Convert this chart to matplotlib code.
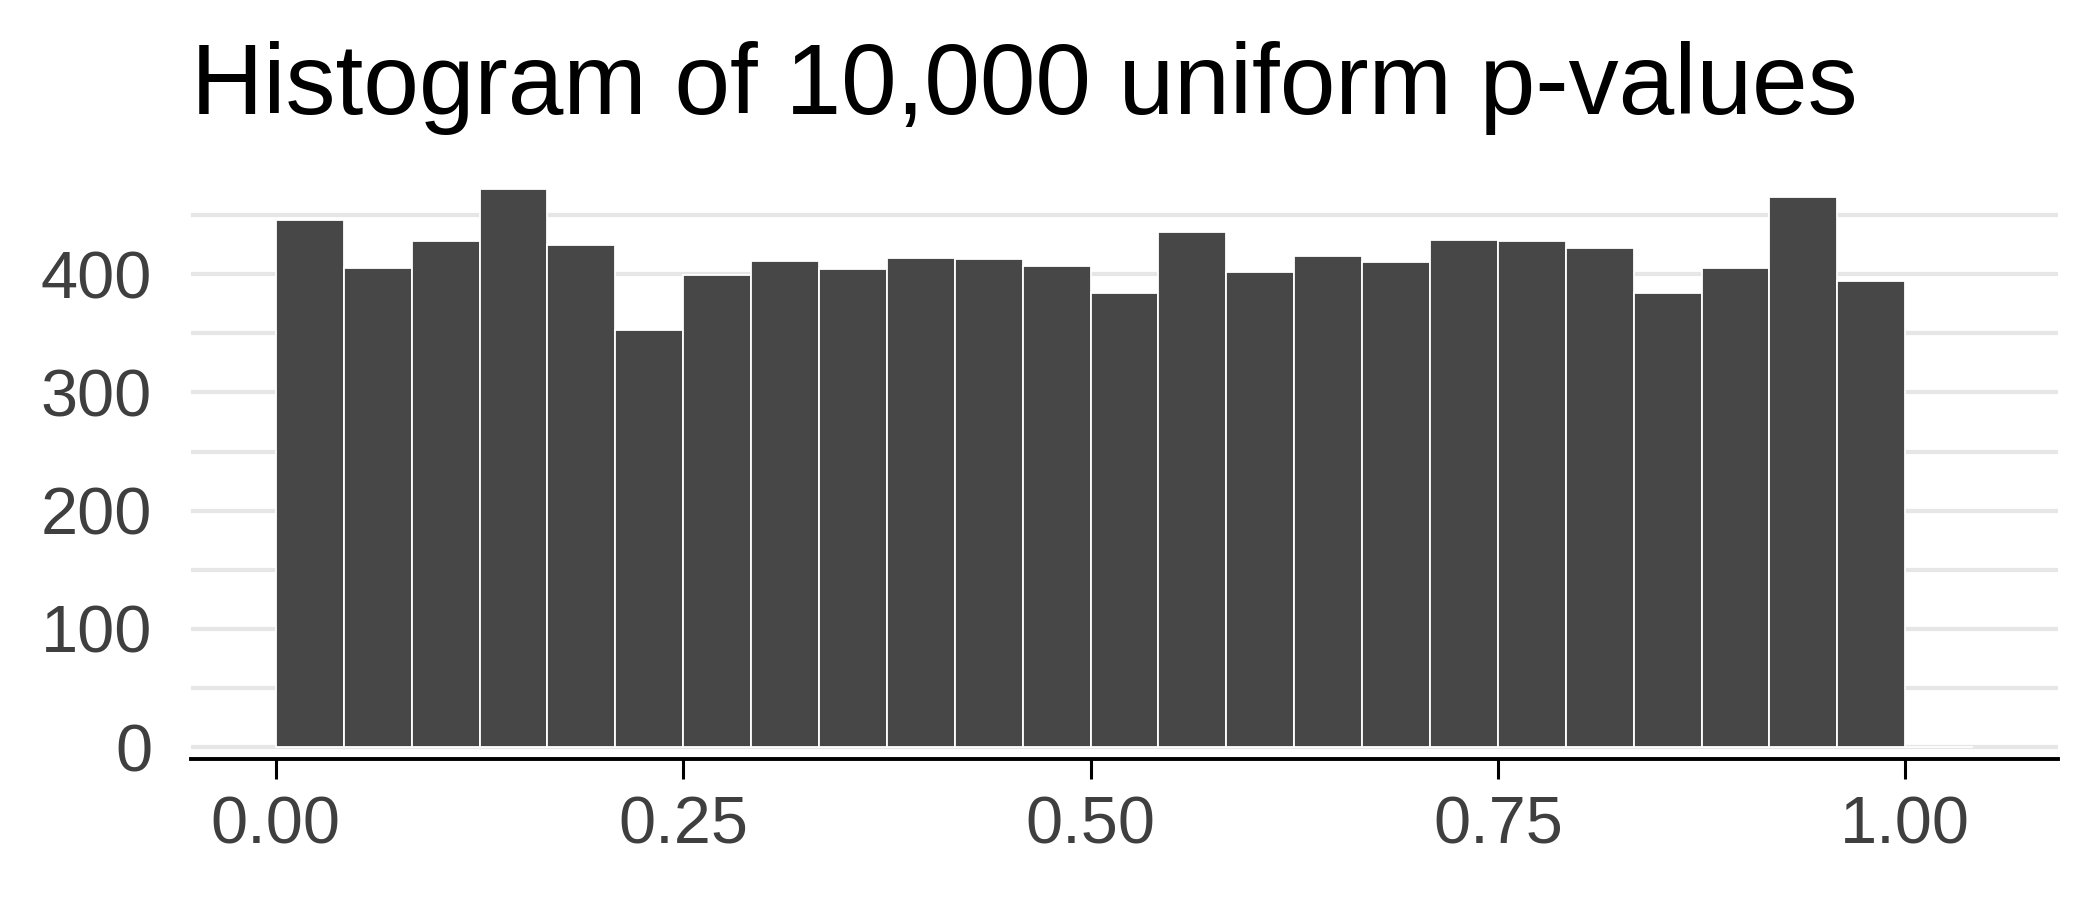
import numpy as np
import matplotlib
matplotlib.use("Agg")
import matplotlib.pyplot as plt
from matplotlib.ticker import MultipleLocator, FixedLocator

# Data: histogram of 10,000 uniform p-values, binwidth 1/24, boundary 0
bin_width = 1 / 24
counts = [446, 405, 428, 472, 425, 353, 399, 411, 404, 414, 413, 407,
          384, 436, 402, 415, 410, 429, 428, 422, 384, 405, 465, 394, 0]
bin_left = [i * bin_width for i in range(len(counts))]
x_ticks = [0.0, 0.25, 0.5, 0.75, 1.0]
x_tick_labels = ["0.00", "0.25", "0.50", "0.75", "1.00"]
y_ticks = [0, 100, 200, 300, 400]
title = "Histogram of 10,000 uniform p-values"

plt.rcParams['font.family'] = ['Liberation Sans', 'DejaVu Sans']

fig = plt.figure(figsize=(21, 9), dpi=100)
ax = fig.add_axes([191 / 2100, 1 - 759 / 900, (2058 - 191) / 2100, (759 - 180) / 900])

ax.bar(bin_left, counts, width=bin_width, align='edge', color='#474747',
       edgecolor='white', linewidth=1.3, zorder=2)

xmax_data = bin_left[-1] + bin_width
pad = 0.05 * xmax_data
ax.set_xlim(-pad, xmax_data + pad)
ax.set_ylim(-0.021 * max(counts), 1.016 * max(counts))

ax.xaxis.set_major_locator(FixedLocator(x_ticks))
ax.set_xticklabels(x_tick_labels)
ax.yaxis.set_major_locator(FixedLocator(y_ticks))
ax.yaxis.set_minor_locator(MultipleLocator(50))

ax.grid(axis='y', which='both', color='#e6e6e6', linewidth=3.0, zorder=0)
ax.set_axisbelow(True)
ax.grid(axis='x', visible=False)

for s in ['top', 'right', 'left']:
    ax.spines[s].set_visible(False)
ax.spines['bottom'].set_linewidth(2.8)
ax.spines['bottom'].set_color('black')
ax.spines['bottom'].set_zorder(3)

ax.tick_params(axis='x', which='major', length=14.5, width=2.2, color='black',
               labelsize=48, labelcolor='#3f3f3f', pad=12)
ax.tick_params(axis='y', which='both', length=0, labelsize=48,
               labelcolor='#3f3f3f', pad=28)

fig.text(191 / 2100, 1 - 114 / 900, title, fontsize=72, color='black',
         ha='left', va='baseline')

fig.savefig("out.png", dpi=100, facecolor='white')
